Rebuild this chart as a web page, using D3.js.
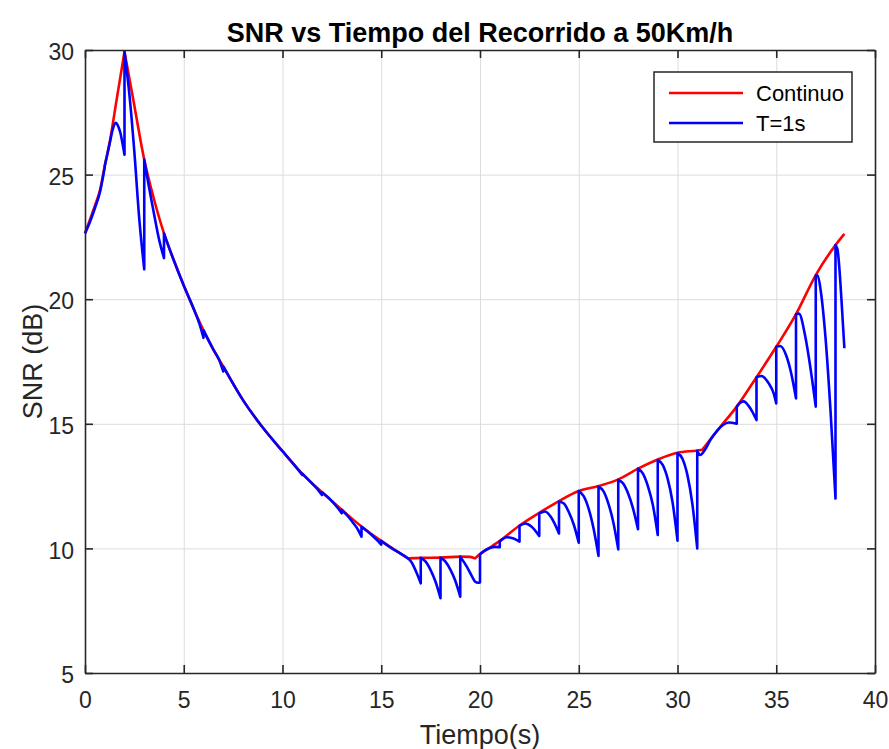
<!DOCTYPE html>
<html>
<head>
<meta charset="utf-8">
<script src="https://cdn.jsdelivr.net/npm/d3@7"></script>
<style>
  html, body { margin: 0; padding: 0; background: #ffffff; }
  svg { display: block; font-family: "Liberation Sans", Arial, Helvetica, sans-serif; }
</style>
</head>
<body>
<svg id="chart" width="889" height="749"></svg>
<script>
// ---------------- DATA ----------------
const titleText = "SNR vs Tiempo del Recorrido a 50Km/h";
const xLabelText = "Tiempo(s)";
const yLabelText = "SNR (dB)";
const xTicks = [0, 5, 10, 15, 20, 25, 30, 35, 40];
const yTicks = [5, 10, 15, 20, 25, 30];
const seriesNames = ["Continuo", "T=1s"];

// Continuous SNR, split at its kinks: [time (s), SNR (dB)]
const continuoSegments = [
  [[0,22.64],[0.5,23.75],[0.76,24.38],[1,25.35],[1.27,26.39],[1.6,28.0],[2,29.93]],
  [[2,29.93],[2.45,27.98],[3,25.6],[3.46,24.11],[4,22.64],[4.5,21.55],[5,20.55],[5.5,19.62],[6,18.75],[6.5,17.98],[7,17.3],[8,15.95],[9,14.85],[10,13.9],[11,13.0],[12,12.25],[13,11.55],[14,10.88],[15,10.3],[16,9.78],[16.35,9.6]],
  [[16.35,9.6],[17,9.62],[18,9.63],[19,9.67],[19.5,9.66],[19.75,9.6]],
  [[19.75,9.6],[20,9.77],[20.5,10.03],[21,10.3],[22,10.92],[23,11.43],[24,11.9],[25,12.3],[26,12.5],[27,12.77],[28,13.2],[29,13.57],[30,13.84],[31,13.93],[31.25,13.96]],
  [[31.25,13.96],[32.17,14.88],[33,15.69],[34,16.87],[35,18.09],[36,19.4],[37,20.97],[38,22.17],[38.45,22.62]]
];

// Sampled SNR (T = 1 s): one piece per sampling interval
const muestreoSegments = [
  [[0,22.64],[0.25,23.1],[0.5,23.65],[0.76,24.3],[1,25.3]],
  [[1,25.35],[1.25,26.25],[1.4,26.8],[1.55,27.08],[1.7,26.9],[1.8,26.65],[1.9,26.25],[2,25.8]],
  [[2,29.93],[2.25,28.2],[2.5,25.9],[2.75,23.2],[3,21.2]],
  [[3,25.6],[3.25,24.45],[3.5,23.4],[3.75,22.4],[4,21.65]],
  [[4,22.64],[4.5,21.55],[5,20.55],[5.5,19.62],[5.8,19.0],[6,18.45]],
  [[6,18.75],[6.5,17.98],[6.8,17.55],[7,17.1]],
  [[7,17.3],[8,15.95],[9,14.85],[10,13.9],[10.7,13.25],[11,12.95]],
  [[11,13.0],[11.5,12.6],[11.8,12.35],[12,12.14]],
  [[12,12.25],[12.5,11.9],[12.8,11.62],[13,11.41]],
  [[13,11.55],[13.3,11.3],[13.6,11.0],[13.8,10.78],[14,10.47]],
  [[14,10.87],[14.5,10.55],[14.8,10.32],[15,10.15]],
  [[15,10.3],[15.5,10.02],[16,9.78],[16.35,9.6],[16.5,9.48],[16.65,9.27],[16.8,9.0],[17,8.6]],
  [[17,9.62],[17.25,9.47],[17.5,9.13],[17.75,8.66],[18,8.0]],
  [[18,9.63],[18.25,9.47],[18.5,9.15],[18.75,8.7],[19,8.06]],
  [[19,9.67],[19.33,9.27],[19.6,8.87],[19.76,8.66],[19.9,8.62],[20,8.63]],
  [[20,9.77],[20.25,9.92],[20.5,10.02],[20.75,10.06],[21,10.05]],
  [[21,10.28],[21.35,10.45],[21.7,10.4],[22,10.27]],
  [[22,10.9],[22.3,11.0],[22.6,10.88],[23,10.5]],
  [[23,11.4],[23.3,11.48],[23.6,11.25],[24,10.6]],
  [[24,11.88],[24.25,11.8],[24.5,11.45],[24.75,10.95],[25,10.23]],
  [[25,12.3],[25.25,12.1],[25.5,11.6],[25.75,10.8],[26,9.7]],
  [[26,12.48],[26.25,12.3],[26.5,11.8],[26.75,11.05],[27,9.96]],
  [[27,12.75],[27.25,12.6],[27.5,12.2],[27.75,11.6],[28,10.77]],
  [[28,13.2],[28.25,13.0],[28.5,12.5],[28.75,11.75],[29,10.54]],
  [[29,13.55],[29.25,13.35],[29.5,12.8],[29.75,11.85],[30,10.31]],
  [[30,13.82],[30.25,13.6],[30.5,12.95],[30.75,11.8],[31,10.0]],
  [[31,13.92],[31.15,13.75],[31.4,13.97],[31.66,14.35],[32,14.72],[32.3,14.95],[32.6,15.05],[33,15.0]],
  [[33,15.69],[33.2,15.86],[33.35,15.9],[33.6,15.72],[33.8,15.47],[34,15.15]],
  [[34,16.87],[34.25,16.92],[34.62,16.62],[34.87,16.22],[35,15.82]],
  [[35,18.09],[35.2,18.12],[35.5,17.75],[35.75,17.05],[36,16.02]],
  [[36,19.4],[36.15,19.42],[36.47,18.5],[36.72,17.3],[37,15.69]],
  [[37,20.95],[37.1,20.95],[37.25,20.35],[37.5,18.4],[37.75,15.5],[38,12.0]],
  [[38,22.17],[38.1,22.0],[38.2,21.2],[38.3,20.0],[38.45,18.03]]
];

// ---------------- LAYOUT ----------------
const svg = d3.select("#chart");
const margin = { left: 85, top: 50, right: 14, bottom: 76 };
const W = 889, H = 749;
const plotW = W - margin.left - margin.right;
const plotH = H - margin.top - margin.bottom;

const x = d3.scaleLinear().domain([0, 40]).range([0, plotW]);
const y = d3.scaleLinear().domain([5, 30]).range([plotH, 0]);

const axisColor = "#262626";
const g = svg.append("g").attr("transform", `translate(${margin.left},${margin.top})`);

// Grid
g.append("g").attr("class", "grid")
  .attr("transform", `translate(0,${plotH})`)
  .call(d3.axisBottom(x).tickValues(xTicks).tickSize(-plotH).tickFormat(""))
  .call(s => s.select(".domain").remove())
  .call(s => s.selectAll("line").attr("stroke", "#dcdcdc").attr("stroke-width", 1));
g.append("g").attr("class", "grid")
  .call(d3.axisLeft(y).tickValues(yTicks).tickSize(-plotW).tickFormat(""))
  .call(s => s.select(".domain").remove())
  .call(s => s.selectAll("line").attr("stroke", "#dcdcdc").attr("stroke-width", 1));

// Lines
function segPath(segments) {
  const line = d3.line().x(d => x(d[0])).y(d => y(d[1])).curve(d3.curveMonotoneX);
  return segments.map((s, i) => {
    const p = line(s);
    return i === 0 ? p : "L" + p.slice(1);
  }).join("");
}

const clip = svg.append("defs").append("clipPath").attr("id", "clip");
clip.append("rect").attr("x", 0).attr("y", 0).attr("width", plotW).attr("height", plotH);

g.append("path")
  .attr("d", segPath(continuoSegments))
  .attr("fill", "none").attr("stroke", "#ff0000").attr("stroke-width", 2.6)
  .attr("stroke-linejoin", "round");
g.append("path")
  .attr("d", segPath(muestreoSegments))
  .attr("fill", "none").attr("stroke", "#0000ff").attr("stroke-width", 2.6)
  .attr("stroke-linejoin", "round");

// Axes (ticks inward, box)
const tickFont = 23;
const ax = g.append("g").attr("transform", `translate(0,${plotH})`)
  .call(d3.axisBottom(x).tickValues(xTicks).tickSizeInner(-8).tickSizeOuter(0).tickPadding(19));
const ay = g.append("g")
  .call(d3.axisLeft(y).tickValues(yTicks).tickSizeInner(-8).tickSizeOuter(0).tickPadding(11));
const at = g.append("g")
  .call(d3.axisTop(x).tickValues(xTicks).tickSizeInner(-8).tickSizeOuter(0).tickFormat(""));
const ar = g.append("g").attr("transform", `translate(${plotW},0)`)
  .call(d3.axisRight(y).tickValues(yTicks).tickSizeInner(-8).tickSizeOuter(0).tickFormat(""));
[ax, ay, at, ar].forEach(a => {
  a.select(".domain").attr("stroke", axisColor).attr("stroke-width", 1.6);
  a.selectAll(".tick line").attr("stroke", axisColor).attr("stroke-width", 1.6);
  a.selectAll("text").attr("fill", axisColor).style("font-size", tickFont + "px")
    .style("font-family", '"Liberation Sans", Arial, sans-serif');
});
ay.selectAll("text").attr("dy", "0.42em");

// Title and labels
svg.append("text").attr("x", margin.left + plotW / 2).attr("y", 42)
  .attr("text-anchor", "middle").style("font-size", "27px").style("font-weight", "bold")
  .attr("fill", "#000").text(titleText);
svg.append("text").attr("x", margin.left + plotW / 2).attr("y", 744)
  .attr("text-anchor", "middle").style("font-size", "27px")
  .attr("fill", axisColor).text(xLabelText);
svg.append("text").attr("transform", `translate(42,${margin.top + plotH / 2}) rotate(-90)`)
  .attr("text-anchor", "middle").style("font-size", "27px")
  .attr("fill", axisColor).text(yLabelText);

// Legend
const lg = svg.append("g");
lg.append("rect").attr("x", 654).attr("y", 72).attr("width", 198).attr("height", 70)
  .attr("fill", "#fff").attr("stroke", axisColor).attr("stroke-width", 1.5);
const legendColors = ["#ff0000", "#0000ff"];
seriesNames.forEach((name, i) => {
  const yy = 93 + i * 30;
  lg.append("line").attr("x1", 669).attr("x2", 743).attr("y1", yy).attr("y2", yy)
    .attr("stroke", legendColors[i]).attr("stroke-width", 2.6);
  lg.append("text").attr("x", 756).attr("y", yy).attr("dy", "0.36em")
    .style("font-size", "22px").attr("fill", "#000").text(name);
});
</script>
</body>
</html>
